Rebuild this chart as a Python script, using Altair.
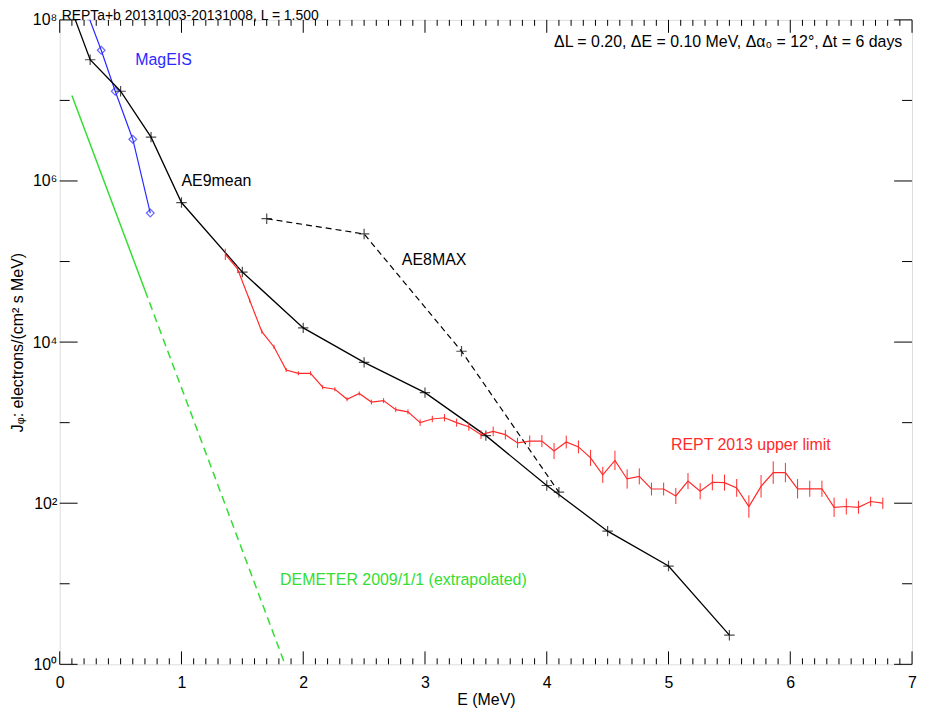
import altair as alt
import pandas as pd

FONT = "Liberation Sans"
FS = 16
W, H = 857, 648

# ---------------- data ----------------
# AE9mean (solid black, + markers)
ae9_E = [0.1, 0.25, 0.5, 0.75, 1.0, 1.5, 2.0, 2.5, 3.0, 3.5, 4.0, 4.5, 5.0, 5.5]
ae9_J = [1.3e8, 3.2e7, 1.3e7, 3.5e6, 5.4e5, 7.4e4, 1.5e4, 5.6e3, 2.36e3, 6.9e2, 1.66e2, 45, 16.6, 2.3]

# AE8MAX (dashed black, + markers)
ae8_E = [1.7, 2.5, 3.3, 4.1]
ae8_J = [3.4e5, 2.2e5, 7.7e3, 1.37e2]

# MagEIS (blue, open diamonds)
mag_E = [0.235, 0.341, 0.456, 0.60, 0.744]
mag_J = [1.12e8, 4.2e7, 1.3e7, 3.3e6, 4.0e5]

# DEMETER 2009/1/1 (green, solid then dashed extrapolation)
dem_solid_E = [0.1, 0.7]
dem_solid_J = [1.15e7, 4.4e4]
dem_dash_E = [0.7, 1.85]
dem_dash_J = [4.4e4, 1.0]

# REPT 2013 upper limit (red, with error bars; err = half length in decades)
rept_E = [1.36, 1.46, 1.56, 1.66, 1.76, 1.86, 1.96, 2.06, 2.16, 2.26,
          2.36, 2.46, 2.56, 2.66, 2.76, 2.86, 2.96, 3.06, 3.16, 3.26,
          3.36, 3.46, 3.56, 3.66, 3.76, 3.86, 3.96, 4.06, 4.16, 4.26,
          4.36, 4.46, 4.56, 4.66, 4.76, 4.86, 4.96, 5.06, 5.16, 5.26,
          5.36, 5.46, 5.56, 5.66, 5.76, 5.86, 5.96, 6.06, 6.16, 6.26,
          6.36, 6.46, 6.56, 6.66, 6.76]
rept_J = [1.23e5, 8.1e4, 3.3e4, 1.35e4, 8.7e3, 4.5e3, 4.1e3, 4.1e3, 2.75e3, 2.6e3,
          1.95e3, 2.3e3, 1.8e3, 1.88e3, 1.45e3, 1.36e3, 1.0e3, 1.11e3, 1.15e3, 1.0e3,
          890, 710, 780, 710, 560, 590, 590, 445, 575, 500,
          365, 225, 340, 200, 215, 150, 150, 123, 188, 141,
          182, 180, 155, 91, 162, 240, 240, 151, 151, 151,
          89, 91, 89, 105, 100]
rept_err = [0.07, 0.03, 0.025, 0.025, 0.025, 0.025, 0.025, 0.025, 0.025, 0.025,
            0.025, 0.025, 0.03, 0.03, 0.03, 0.03, 0.04, 0.04, 0.045, 0.05,
            0.05, 0.055, 0.06, 0.06, 0.065, 0.07, 0.075, 0.1, 0.08, 0.08,
            0.1, 0.1, 0.12, 0.12, 0.1, 0.08, 0.08, 0.1, 0.1, 0.1,
            0.1, 0.1, 0.11, 0.14, 0.14, 0.14, 0.12, 0.12, 0.1, 0.1,
            0.12, 0.1, 0.08, 0.06, 0.07]

# annotations
ann_text = ["MagEIS", "AE9mean", "AE8MAX", "REPT 2013 upper limit",
            "DEMETER 2009/1/1 (extrapolated)"]
ann_E = [0.62, 1.0, 2.81, 5.02, 1.81]
ann_J = [3.2e7, 1.0e6, 1.05e5, 535, 11]
ann_col = ["#2a2aff", "black", "black", "#ff2a2a", "#33dd33"]

info_text = ["\u0394L = 0.20, \u0394E = 0.10 MeV, \u0394\u03b1\u2080 = 12\u00b0, \u0394t =  6 days"]
info_E = [6.92]
info_J = [5.25e7]

title_text = ["REPTa+b 20131003-20131008, L =  1.500"]
title_E = [0.0]
title_J = [1e8]

# axis tick positions
x_major = [0, 1, 2, 3, 4, 5, 6, 7]
x_minor = [round(i * 0.1, 1) for i in range(71) if i % 10]
y_major = [1, 1e2, 1e4, 1e6, 1e8]
y_minor = [1e1, 1e3, 1e5, 1e7]

# ---------------- tables ----------------
ae9 = pd.DataFrame({"E": ae9_E, "J": ae9_J})
ae8 = pd.DataFrame({"E": ae8_E, "J": ae8_J})
mag = pd.DataFrame({"E": mag_E, "J": mag_J})
dem_s = pd.DataFrame({"E": dem_solid_E, "J": dem_solid_J})
dem_d = pd.DataFrame({"E": dem_dash_E, "J": dem_dash_J})
rept = pd.DataFrame({"E": rept_E, "J": rept_J, "err": rept_err})
rept["lo"] = rept["J"] / 10 ** rept["err"]
rept["hi"] = rept["J"] * 10 ** rept["err"]
ann = pd.DataFrame({"E": ann_E, "J": ann_J, "t": ann_text, "c": ann_col})
info = pd.DataFrame({"E": info_E, "J": info_J, "t": info_text})
ttl = pd.DataFrame({"E": title_E, "J": title_J, "t": title_text})

xs = alt.Scale(domain=[0, 7], nice=False, zero=False)
ys = alt.Scale(type="log", domain=[1, 1e8], nice=False)

x_axis = alt.Axis(values=x_major, format="d", title="E (MeV)", ticks=False, tickSize=0,
                  domain=False, grid=False, labelPadding=10, titlePadding=1,
                  labelFontSize=FS, titleFontSize=FS, titleFontWeight="normal",
                  labelFont=FONT, titleFont=FONT, labelColor="black", titleColor="black",
                  labelFlush=False)
y_axis = alt.Axis(values=y_major,
                  labelExpr="datum.value < 10 ? '10\u2070' : datum.value < 1000 ? '10\u00b2' : datum.value < 100000 ? '10\u2074' : datum.value < 10000000 ? '10\u2076' : '10\u2078'",
                  title="J\u1d69: electrons/(cm\u00b2 s MeV)", ticks=False, tickSize=0,
                  domain=False, grid=False, labelPadding=3, titlePadding=7,
                  labelFontSize=FS, titleFontSize=FS, titleFontWeight="normal",
                  labelFont=FONT, titleFont=FONT, labelColor="black", titleColor="black",
                  labelFlush=False)

X = alt.X("E:Q", scale=xs, axis=x_axis)
Y = alt.Y("J:Q", scale=ys, axis=y_axis)

PLUS = "M-1,0L1,0M0,-1L0,1"

dem_solid = alt.Chart(dem_s).mark_line(color="#33dd33", strokeWidth=1.5, clip=True).encode(x=X, y=Y)
dem_dash = alt.Chart(dem_d).mark_line(color="#33dd33", strokeWidth=1.5, strokeDash=[8, 5], clip=True).encode(x=X, y=Y)

mag_line = alt.Chart(mag).mark_line(color="#2a2aff", strokeWidth=1.2, clip=True).encode(x=X, y=Y)
mag_pts = alt.Chart(mag).mark_point(shape="diamond", filled=False, size=60, color="#2a2aff",
                                    strokeWidth=1.2, clip=True).encode(x=X, y=Y)

ae8_line = alt.Chart(ae8).mark_line(color="black", strokeWidth=1.2, strokeDash=[6, 4], clip=True).encode(x=X, y=Y)
ae8_pts = alt.Chart(ae8).mark_point(shape=PLUS, filled=False, size=110, color="black",
                                    strokeWidth=1.2, clip=True).encode(x=X, y=Y)

ae9_line = alt.Chart(ae9).mark_line(color="black", strokeWidth=1.3, clip=True).encode(x=X, y=Y)
ae9_pts = alt.Chart(ae9).mark_point(shape=PLUS, filled=False, size=110, color="black",
                                    strokeWidth=1.2, clip=True).encode(x=X, y=Y)

rept_bars = alt.Chart(rept).mark_rule(color="#ff2a2a", strokeWidth=1, clip=True).encode(
    x=X, y=alt.Y("lo:Q", scale=ys, axis=y_axis), y2="hi:Q")
rept_line = alt.Chart(rept).mark_line(color="#ff2a2a", strokeWidth=1.2, clip=True).encode(x=X, y=Y)

# inward ticks on all four sides
def xticks(vals, length):
    df = pd.DataFrame({"E": vals})
    bot = alt.Chart(df).mark_rule(color="black", strokeWidth=1).encode(
        x=X, y=alt.value(H), y2=alt.value(H - length))
    top = alt.Chart(df).mark_rule(color="black", strokeWidth=1).encode(
        x=X, y=alt.value(0), y2=alt.value(length))
    return [bot, top]

def yticks(vals, length):
    df = pd.DataFrame({"J": vals})
    left = alt.Chart(df).mark_rule(color="black", strokeWidth=1).encode(
        y=Y, x=alt.value(0), x2=alt.value(length))
    right = alt.Chart(df).mark_rule(color="black", strokeWidth=1).encode(
        y=Y, x=alt.value(W), x2=alt.value(W - length))
    return [left, right]

ticks = xticks(x_major, 13) + xticks(x_minor, 6) + yticks(y_major, 18) + yticks(y_minor, 10)

ann_layer = alt.Chart(ann).mark_text(align="left", baseline="middle", fontSize=FS, font=FONT).encode(
    x=X, y=Y, text="t:N", color=alt.Color("c:N", scale=None))
info_layer = alt.Chart(info).mark_text(align="right", baseline="middle", fontSize=FS, font=FONT,
                                       color="black").encode(x=X, y=Y, text="t:N")
title_layer = alt.Chart(ttl).mark_text(align="left", baseline="alphabetic", fontSize=14, font=FONT,
                                       color="black", dx=2, dy=0).encode(x=X, y=Y, text="t:N")

chart = alt.layer(
    dem_solid, dem_dash, mag_line, mag_pts, ae8_line, ae8_pts, ae9_line, ae9_pts,
    rept_bars, rept_line, *ticks, ann_layer, info_layer, title_layer
).properties(
    width=W, height=H,
    padding={"left": 52, "top": 10, "right": 6, "bottom": 44},
    autosize=alt.AutoSizeParams(type="none"),
).configure_view(stroke="#222222", strokeWidth=1.2).configure(background="white")

chart.save("out.html", embed_options={"renderer": "svg", "actions": False})
